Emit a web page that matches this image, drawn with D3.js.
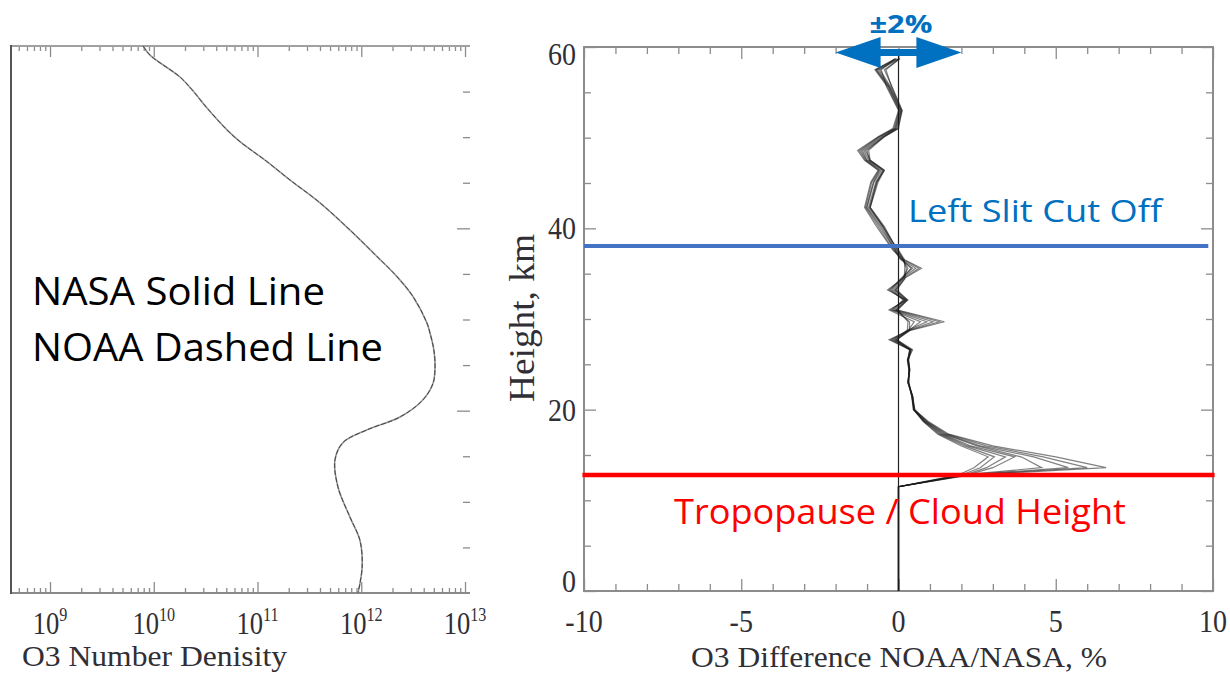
<!DOCTYPE html>
<html>
<head>
<meta charset="utf-8">
<script src="https://cdn.jsdelivr.net/npm/d3@7"></script>
<style>
  body { margin: 0; background: #fff; }
</style>
</head>
<body>
<div id="chart-area"></div>
<script>
/*
*    ozone profile comparison
*/

// left panel: O3 number density profile (height km, molecules/cm3)
var densityHeights = [60, 59, 56.6, 55.2, 53.2, 50.8, 49.5, 47.3, 45.3, 42.8, 39.8, 36.9, 34.7, 32.5, 29.6, 28.5, 26.7, 24.8, 23.0, 21.2, 19.3, 17.9, 16.5, 14.6, 11.6, 8.3, 5.8, 2.85, 0];
var densityValues = [7.9e9, 9.2e9, 1.79e10, 2.34e10, 3.26e10, 5.08e10, 6.78e10, 1.24e11, 2.06e11, 4.0e11, 7.8e11, 1.42e12, 2.21e12, 3.16e12, 4.3e12, 4.6e12, 5.0e12, 5.14e12, 4.92e12, 3.94e12, 2.36e12, 1.14e12, 6.67e11, 5.58e11, 5.97e11, 7.8e11, 9.7e11, 1.02e12, 9.3e11];
var densityDecades = [9, 10, 11, 12, 13];

// right panel: NOAA/NASA difference profiles (%)
var diffHeights = [0, 11.5, 12.8, 13.6, 14.8, 16, 17.3, 18.7, 20, 21.5, 23, 24.4, 25.5, 26.6, 27.7, 28.7, 29.7, 31, 32.1, 33.2, 34.4, 35.6, 36.6, 37.6, 38.6, 40.2, 42.3, 45.1, 46.4, 47.5, 48.6, 50.1, 51, 53, 55.6, 57.5, 58.7];
var diffProfile1 = [0, 0, 2.3, 6.6, 5.0, 3.0, 1.6, 0.95, 0.5, 0.45, 0.3, 0.35, 0.3, 0.45, -0.05, 0.35, 1.46, -0.05, 0.25, -0.1, 0.15, 0.73, 0.15, -0.05, -0.2, -0.45, -0.9, -0.7, -0.45, -0.9, -1.05, -0.45, -0.05, 0.1, -0.25, -0.6, 0.02];
var diffProfile2 = [0, 0, 2.2, 6.0, 4.6, 2.8, 1.55, 0.9, 0.5, 0.42, 0.32, 0.33, 0.28, 0.42, -0.1, 0.3, 1.3, -0.1, 0.22, -0.15, 0.12, 0.65, 0.12, -0.08, -0.25, -0.5, -0.95, -0.72, -0.5, -0.95, -1.1, -0.5, -0.08, 0.08, -0.28, -0.65, 0.0];
var diffProfile3 = [0, 0, 2.1, 5.4, 4.3, 2.6, 1.5, 0.9, 0.52, 0.45, 0.3, 0.36, 0.32, 0.38, -0.15, 0.28, 1.1, -0.15, 0.18, -0.2, 0.08, 0.55, 0.08, -0.1, -0.28, -0.55, -1.0, -0.78, -0.55, -1.0, -1.15, -0.55, -0.1, 0.06, -0.3, -0.7, -0.05];
var diffProfile4 = [0, 0, 2.0, 4.55, 3.9, 2.5, 1.45, 0.85, 0.48, 0.43, 0.33, 0.34, 0.3, 0.35, -0.2, 0.25, 0.9, -0.2, 0.15, -0.25, 0.05, 0.45, 0.05, -0.12, -0.3, -0.6, -1.02, -0.8, -0.6, -1.02, -1.2, -0.6, -0.12, 0.04, -0.32, -0.72, -0.08];
var diffProfile5 = [0, 0, 2.2, 3.0, 3.7, 2.3, 1.4, 0.85, 0.5, 0.45, 0.3, 0.35, 0.32, 0.4, -0.25, 0.32, 0.7, -0.25, 0.2, -0.3, 0.1, 0.4, 0.1, -0.15, -0.35, -0.65, -1.05, -0.85, -0.62, -1.05, -1.25, -0.62, -0.15, 0.02, -0.35, -0.75, -0.1];
var diffProfile6 = [0, 0, 2.1, 2.8, 3.4, 2.2, 1.35, 0.82, 0.47, 0.42, 0.31, 0.33, 0.29, 0.36, -0.3, 0.3, 0.5, -0.3, 0.25, -0.35, 0.12, 0.3, 0.12, -0.18, -0.38, -0.7, -1.08, -0.88, -0.65, -1.08, -1.3, -0.65, -0.18, 0.0, -0.38, -0.55, -0.12];
var diffProfile7 = [0, 0, 2.0, 2.6, 3.05, 2.1, 1.3, 0.8, 0.5, 0.44, 0.32, 0.36, 0.31, 0.38, -0.1, 0.35, 0.35, -0.08, 0.3, -0.1, 0.2, 0.25, 0.15, -0.02, -0.22, -0.5, -0.92, -0.68, -0.48, -0.92, -1.0, -0.48, -0.02, 0.12, -0.2, -0.45, 0.05];
var diffProfile8 = [0, 0, 1.9, 2.4, 2.85, 2.0, 1.25, 0.78, 0.49, 0.43, 0.3, 0.34, 0.3, 0.37, -0.05, 0.28, 0.3, -0.02, 0.28, -0.05, 0.18, 0.2, 0.18, 0.0, -0.2, -0.48, -0.9, -0.65, -0.45, -0.9, -0.95, -0.45, 0.0, 0.1, -0.22, -0.4, 0.03];
var diffProfiles = [diffProfile1, diffProfile2, diffProfile3, diffProfile4, diffProfile5, diffProfile6, diffProfile7, diffProfile8];

var diffTicks = [-10, -5, 0, 5, 10];
var heightTicks = [0, 20, 40, 60];
var tropopauseHeight = 12.8;
var slitCutoffHeight = 38.05;
var bandPercent = 2;

var serif = "'Liberation Serif', 'DejaVu Serif', serif";
var sans = "'Open Sans', 'Noto Sans', sans-serif";
var axisColor = "#8c8c8c";
var labelColor = "#2f2f35";

var svg = d3.select("#chart-area").append("svg")
    .attr("width", 1230)
    .attr("height", 680);

// tick-only axis helper
function ticks(gen, scale, values, size, transform) {
    var a = svg.append("g")
        .attr("transform", transform)
        .call(gen(scale).tickValues(values).tickSize(size).tickFormat(""));
    a.select(".domain").remove();
    a.selectAll(".tick line").attr("stroke", axisColor).attr("stroke-width", 1.3);
    return a;
}

function frameLine(x1, y1, x2, y2, color, w) {
    svg.append("line")
        .attr("x1", x1).attr("y1", y1).attr("x2", x2).attr("y2", y2)
        .attr("stroke", color).attr("stroke-width", w);
}

/* ---------------- left panel ---------------- */
var xL = d3.scaleLog().domain([Math.pow(10, 8.624), Math.pow(10, 13.048)]).range([11, 470]);
var yL = d3.scaleLinear().domain([0, 60]).range([593, 46]);

var majorL = densityDecades.map((d) => Math.pow(10, d));
var minorL = [];
d3.range(8, 14).forEach((n) => {
    d3.range(2, 10).forEach((k) => {
        var v = k * Math.pow(10, n);
        if (v > xL.domain()[0] && v < xL.domain()[1]) minorL.push(v);
    });
});

ticks(d3.axisTop, xL, minorL, -5, "translate(0,46)");
ticks(d3.axisTop, xL, majorL, -11, "translate(0,46)");
ticks(d3.axisBottom, xL, minorL, -5, "translate(0,593)");
ticks(d3.axisBottom, xL, majorL, -11, "translate(0,593)");
ticks(d3.axisLeft, yL, d3.range(5, 60, 5).filter((d) => d % 20 != 0), 7, "translate(470,0)");
ticks(d3.axisLeft, yL, [20, 40], 13, "translate(470,0)");

frameLine(11, 46, 470, 46, "#a0a0a0", 2);
frameLine(11, 593, 470, 593, "#8a8a8a", 2);
frameLine(11, 45, 11, 594, "#555", 2);

var densityData = densityHeights.map((h, i) => ({ h: h, n: densityValues[i] }));
var densityLine = d3.line()
    .x((d) => xL(d.n))
    .y((d) => yL(d.h))
    .curve(d3.curveCatmullRom);

// NASA solid
svg.append("path").datum(densityData)
    .attr("d", densityLine)
    .attr("fill", "none")
    .attr("stroke", "#9a9a9a")
    .attr("stroke-width", 1.6);
// NOAA dashed
svg.append("path").datum(densityData)
    .attr("d", densityLine)
    .attr("fill", "none")
    .attr("stroke", "#444")
    .attr("stroke-width", 1)
    .attr("stroke-dasharray", "5,2");

var lblL = svg.append("g").selectAll("text")
    .data(majorL).enter().append("text")
    .attr("transform", (d) => "translate(" + xL(d) + ",634) scale(0.95,1.15)")
    .attr("text-anchor", "middle")
    .style("font-family", serif)
    .style("font-size", "28px")
    .style("fill", labelColor);
lblL.append("tspan").text("10");
lblL.append("tspan")
    .attr("dy", -11)
    .style("font-size", "17px")
    .text((d) => Math.round(Math.log10(d)));

svg.append("text")
    .attr("transform", "translate(22,666) scale(1,1.12)")
    .attr("textLength", 265)
    .attr("lengthAdjust", "spacingAndGlyphs")
    .style("font-family", serif)
    .style("font-size", "26px")
    .style("fill", labelColor)
    .text("O3 Number Denisity");

svg.append("text")
    .attr("x", 32).attr("y", 305)
    .attr("textLength", 293)
    .attr("lengthAdjust", "spacingAndGlyphs")
    .style("font-family", sans)
    .style("font-size", "38px")
    .style("fill", "#000")
    .text("NASA Solid Line");

svg.append("text")
    .attr("x", 32).attr("y", 361)
    .attr("textLength", 351)
    .attr("lengthAdjust", "spacingAndGlyphs")
    .style("font-family", sans)
    .style("font-size", "38px")
    .style("fill", "#000")
    .text("NOAA Dashed Line");

/* ---------------- right panel ---------------- */
var xR = d3.scaleLinear().domain([-10, 10]).range([584, 1213]);
var yR = d3.scaleLinear().domain([0, 60]).range([591, 47]);

var minorR = d3.range(-9, 10).filter((d) => d % 5 != 0);
var minorH = d3.range(5, 60, 5).filter((d) => d % 20 != 0);
ticks(d3.axisTop, xR, minorR, -7, "translate(0,47)");
ticks(d3.axisTop, xR, diffTicks, -12, "translate(0,47)");
ticks(d3.axisBottom, xR, minorR, -7, "translate(0,591)");
ticks(d3.axisBottom, xR, diffTicks, -12, "translate(0,591)");
ticks(d3.axisLeft, yR, minorH, -7, "translate(584,0)");
ticks(d3.axisLeft, yR, heightTicks, -12, "translate(584,0)");
ticks(d3.axisLeft, yR, minorH, 7, "translate(1213,0)");
ticks(d3.axisLeft, yR, heightTicks, 12, "translate(1213,0)");

svg.append("rect")
    .attr("x", 584).attr("y", 47)
    .attr("width", 1213 - 584).attr("height", 591 - 47)
    .attr("fill", "none")
    .attr("stroke", axisColor)
    .attr("stroke-width", 2);

// zero reference
svg.append("line")
    .attr("x1", xR(0)).attr("x2", xR(0))
    .attr("y1", yR(0)).attr("y2", yR(59))
    .attr("stroke", "#222")
    .attr("stroke-width", 1.2);

var diffLine = d3.line()
    .x((d) => xR(d.v))
    .y((d) => yR(d.h));

svg.append("g").selectAll("path")
    .data(diffProfiles.map((p) => diffHeights.map((h, i) => ({ h: h, v: p[i] }))))
    .enter().append("path")
    .attr("d", diffLine)
    .attr("fill", "none")
    .attr("stroke", "#1a1a1a")
    .attr("stroke-opacity", 0.55)
    .attr("stroke-width", 1.2);

// slit cut-off and tropopause lines
svg.append("line")
    .attr("x1", xR(-10)).attr("x2", xR(9.85))
    .attr("y1", yR(slitCutoffHeight)).attr("y2", yR(slitCutoffHeight))
    .attr("stroke", "#4472c4")
    .attr("stroke-width", 4);

svg.append("line")
    .attr("x1", xR(-10.05)).attr("x2", xR(10.05))
    .attr("y1", yR(tropopauseHeight)).attr("y2", yR(tropopauseHeight))
    .attr("stroke", "#ff0000")
    .attr("stroke-width", 4.5);

svg.append("text")
    .attr("x", 908).attr("y", 222)
    .attr("textLength", 254)
    .attr("lengthAdjust", "spacingAndGlyphs")
    .style("font-family", sans)
    .style("font-size", "31px")
    .style("fill", "#0070c0")
    .text("Left Slit Cut Off");

svg.append("text")
    .attr("x", 674).attr("y", 524)
    .attr("textLength", 452)
    .attr("lengthAdjust", "spacingAndGlyphs")
    .style("font-family", sans)
    .style("font-size", "34px")
    .style("fill", "#ff0000")
    .text("Tropopause / Cloud Height");

// ±2% double arrow
var ay = yR(59.4), head = 45, hw = 15.5, sw = 3.5;
var axl = xR(-bandPercent), axr = xR(bandPercent);
svg.append("path")
    .attr("d", "M" + axl + "," + ay +
        "L" + (axl + head) + "," + (ay - hw) +
        "L" + (axl + head) + "," + (ay - sw) +
        "L" + (axr - head) + "," + (ay - sw) +
        "L" + (axr - head) + "," + (ay - hw) +
        "L" + axr + "," + ay +
        "L" + (axr - head) + "," + (ay + hw) +
        "L" + (axr - head) + "," + (ay + sw) +
        "L" + (axl + head) + "," + (ay + sw) +
        "L" + (axl + head) + "," + (ay + hw) + "Z")
    .attr("fill", "#0070c0");

svg.append("text")
    .attr("x", 901).attr("y", 33)
    .attr("text-anchor", "middle")
    .attr("textLength", 63)
    .attr("lengthAdjust", "spacingAndGlyphs")
    .style("font-family", sans)
    .style("font-size", "25px")
    .style("font-weight", "bold")
    .style("fill", "#0070c0")
    .text("±2%");

// tick labels
svg.append("g").selectAll("text")
    .data(diffTicks).enter().append("text")
    .attr("transform", (d) => "translate(" + xR(d) + ",632) scale(1,1.15)")
    .attr("text-anchor", "middle")
    .style("font-family", serif)
    .style("font-size", "28px")
    .style("fill", labelColor)
    .text((d) => d);

svg.append("g").selectAll("text")
    .data(heightTicks).enter().append("text")
    .attr("transform", (d) => {
        var dy = d == 60 ? 7 : (d == 0 ? -10 : 0);
        return "translate(576," + (yR(d) + 11 + dy) + ") scale(1,1.15)";
    })
    .attr("text-anchor", "end")
    .style("font-family", serif)
    .style("font-size", "28px")
    .style("fill", labelColor)
    .text((d) => d);

svg.append("text")
    .attr("transform", "translate(534,318) rotate(-90)")
    .attr("text-anchor", "middle")
    .attr("textLength", 168)
    .attr("lengthAdjust", "spacingAndGlyphs")
    .style("font-family", serif)
    .style("font-size", "36px")
    .style("fill", labelColor)
    .text("Height, km");

svg.append("text")
    .attr("transform", "translate(691,667) scale(1,1.12)")
    .attr("textLength", 416)
    .attr("lengthAdjust", "spacingAndGlyphs")
    .style("font-family", serif)
    .style("font-size", "27px")
    .style("fill", labelColor)
    .text("O3 Difference NOAA/NASA, %");
</script>
</body>
</html>
